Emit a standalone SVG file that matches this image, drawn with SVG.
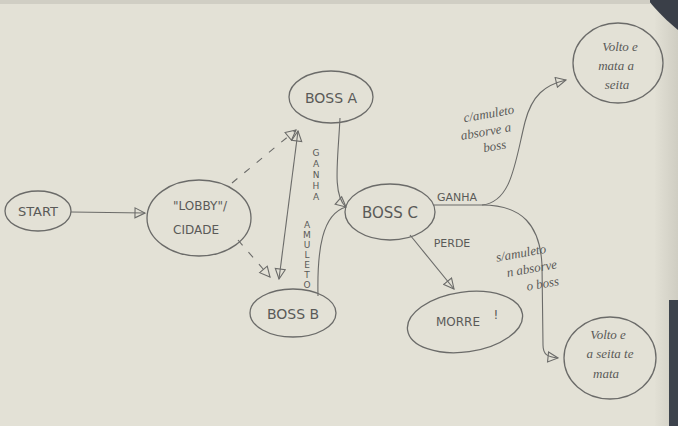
<svg xmlns="http://www.w3.org/2000/svg" width="678" height="426" viewBox="0 0 678 426">
<defs>
<style>
.n{fill:none;stroke:#6b6b69;stroke-width:1.3}
.c{fill:none;stroke:#6b6b69;stroke-width:1.1}
.d{stroke-dasharray:7 9}
.t{font-family:"DejaVu Sans",sans-serif;fill:#5a5a58;text-anchor:middle}
.h{font-family:"Liberation Serif",serif;font-style:italic;fill:#5a5a58;text-anchor:middle;font-size:13px}
.v{font-family:"DejaVu Sans",sans-serif;fill:#5a5a58;text-anchor:middle;font-size:9px}
.l{font-family:"DejaVu Sans",sans-serif;fill:#5a5a58;text-anchor:middle;font-size:11px}
</style>
<marker id="a" viewBox="0 0 12 12" refX="11" refY="6" markerWidth="12" markerHeight="12" markerUnits="userSpaceOnUse" orient="auto-start-reverse">
<path d="M1,1 L11,6 L1,11 Z" fill="none" stroke="#6b6b69" stroke-width="1.1"/>
</marker>
<linearGradient id="edge" x1="0" x2="1">
<stop offset="0" stop-color="#e2e0d5"/><stop offset="1" stop-color="#cfcdc2"/>
</linearGradient>
</defs>
<rect width="678" height="426" fill="#e3e1d6"/>
<rect x="655" y="0" width="23" height="426" fill="url(#edge)"/>
<path d="M648,0 L678,0 L678,30 C668,22 656,10 648,0 Z" fill="#3a3f48"/>
<rect x="669" y="300" width="9" height="126" fill="#3d434c"/>
<rect x="0" y="0" width="650" height="4" fill="#d0cec4"/>

<g id="connectors">
<path class="c" d="M71,212 L145,213" marker-end="url(#a)"/>
<path class="c d" d="M232,183 L296,130" marker-end="url(#a)"/>
<path class="c d" d="M238,240 L270,277" marker-end="url(#a)"/>
<path class="c" d="M279,279 L298,131" marker-start="url(#a)" marker-end="url(#a)"/>
<path class="c" d="M340,118 C338,160 332,195 346,207" marker-end="url(#a)"/>
<path class="c" d="M318,296 C317,250 322,214 346,207"/>
<path class="c" d="M434,205 L482,205 C512,202 515,162 525,122 C532,95 545,85 566,80" marker-end="url(#a)"/>
<path class="c" d="M482,205 C522,205 540,225 542,265 L543,345 C543,355 548,357 558,358" marker-end="url(#a)"/>
<path class="c" d="M410,235 L454,289" marker-end="url(#a)"/>
</g>

<g id="labels">
<text class="l" x="457" y="201">GANHA</text>
<text class="l" x="452" y="247">PERDE</text>
<text class="v" x="316" y="156">G</text>
<text class="v" x="316" y="167">A</text>
<text class="v" x="316" y="178">N</text>
<text class="v" x="316" y="189">H</text>
<text class="v" x="316" y="200">A</text>
<text class="v" x="307" y="228">A</text>
<text class="v" x="307" y="238">M</text>
<text class="v" x="307" y="248">U</text>
<text class="v" x="307" y="258">L</text>
<text class="v" x="307" y="268">E</text>
<text class="v" x="307" y="278">T</text>
<text class="v" x="307" y="288">O</text>
<g transform="rotate(-10 490 132)">
<text class="h" x="492" y="118">c/amuleto</text>
<text class="h" x="486" y="135">absorve a</text>
<text class="h" x="492" y="151">boss</text>
</g>
<g transform="rotate(-10 530 270)">
<text class="h" x="524" y="256">s/amuleto</text>
<text class="h" x="532" y="273">n absorve</text>
<text class="h" x="540" y="290">o boss</text>
</g>
</g>

<g id="start">
<ellipse class="n" cx="38" cy="211" rx="33" ry="20"/>
<text class="t" x="38" y="216" font-size="13">START</text>
</g>
<g id="lobby">
<ellipse class="n" cx="199" cy="218" rx="52" ry="38"/>
<text class="t" x="200" y="210" font-size="12">"LOBBY"/</text>
<text class="t" x="196" y="234" font-size="12">CIDADE</text>
</g>
<g id="bossA">
<ellipse class="n" cx="331" cy="97" rx="42" ry="26"/>
<text class="t" x="331" y="103" font-size="14">BOSS A</text>
</g>
<g id="bossB">
<ellipse class="n" cx="293" cy="313" rx="43" ry="24"/>
<text class="t" x="293" y="319" font-size="14">BOSS B</text>
</g>
<g id="bossC">
<ellipse class="n" cx="390" cy="212" rx="45" ry="28"/>
<text class="t" x="390" y="218" font-size="15">BOSS C</text>
</g>
<g id="morre">
<ellipse class="n" cx="465" cy="322" rx="58" ry="30" transform="rotate(-8 465 322)"/>
<text class="t" x="458" y="326" font-size="12">MORRE</text>
<text class="t" x="496" y="319" font-size="12">!</text>
</g>
<g id="end1">
<ellipse class="n" cx="618" cy="63" rx="45" ry="40"/>
<text class="h" x="620" y="51">Volto e</text>
<text class="h" x="616" y="70">mata a</text>
<text class="h" x="617" y="89">seita</text>
</g>
<g id="end2">
<ellipse class="n" cx="610" cy="358" rx="46" ry="41"/>
<text class="h" x="608" y="339">Volto e</text>
<text class="h" x="610" y="358">a seita te</text>
<text class="h" x="606" y="378">mata</text>
</g>
</svg>
